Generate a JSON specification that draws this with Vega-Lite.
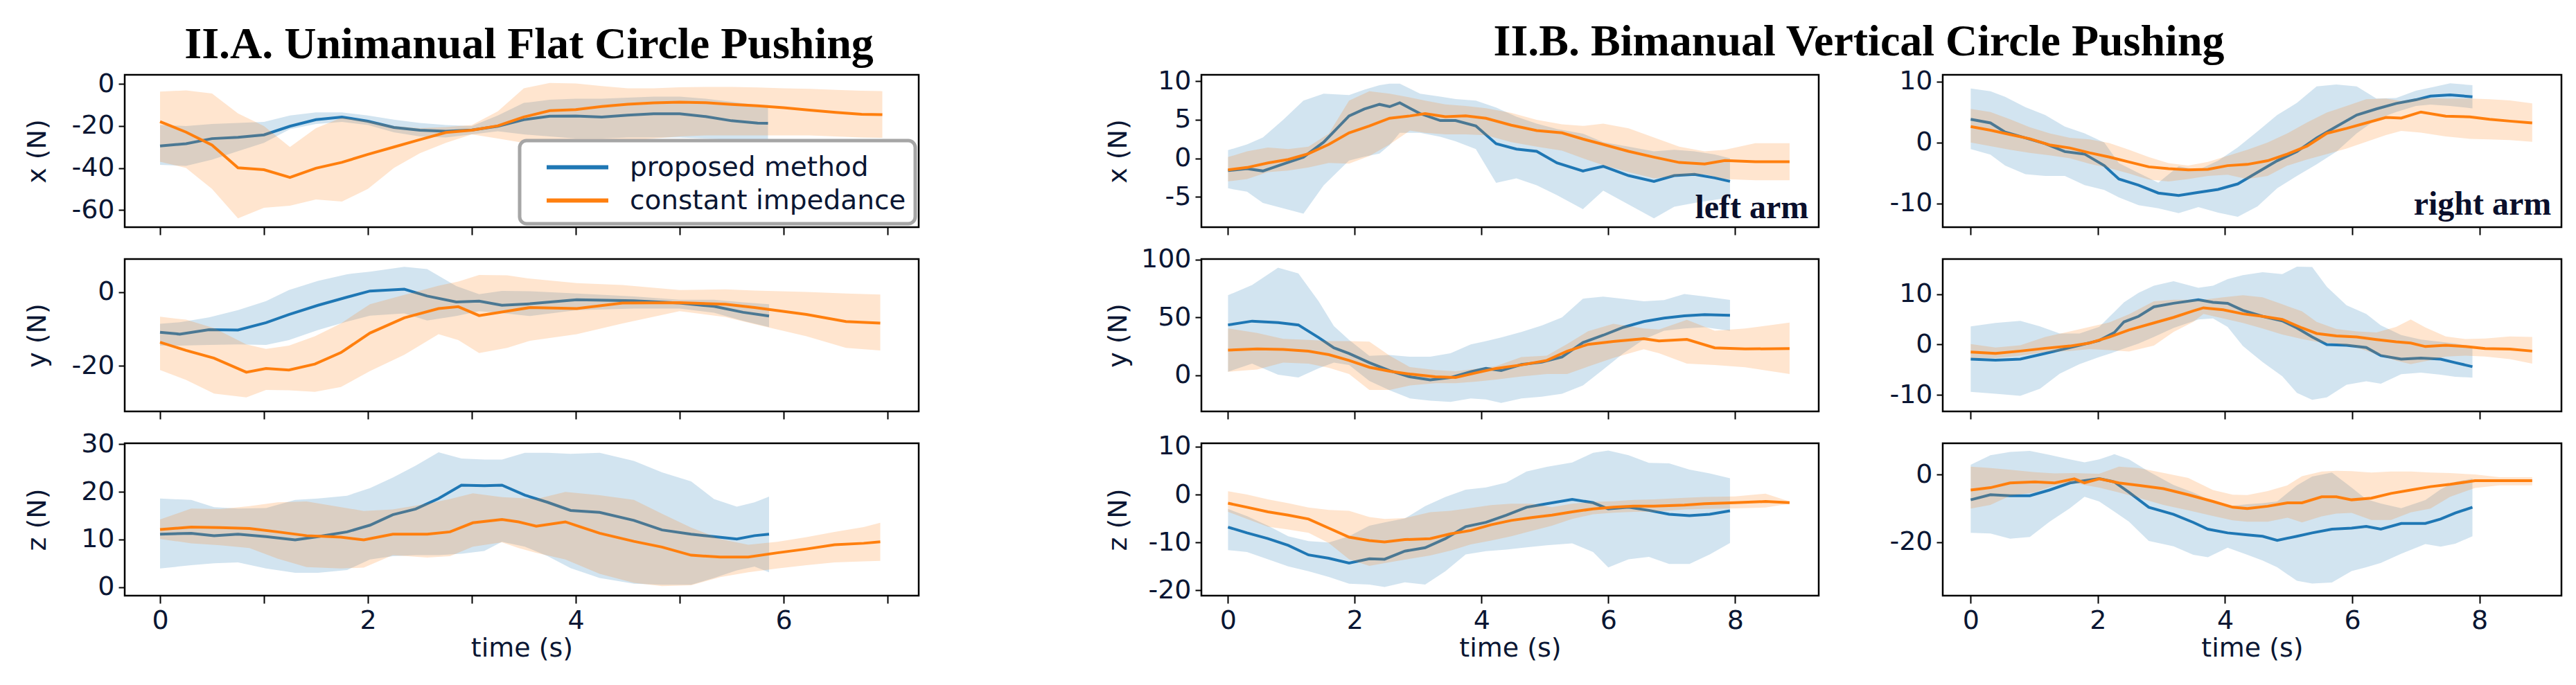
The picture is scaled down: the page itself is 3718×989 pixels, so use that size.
{
  "$schema": "https://vega.github.io/schema/vega-lite/v6.json",
  "background": "white",
  "padding": {"left": 33, "top": 29, "right": 0, "bottom": 0},
  "config": {
    "view": {"stroke": "#000000", "strokeWidth": 2.5},
    "axis": {"grid": false, "domain": false, "tickColor": "#000000", "tickWidth": 2, "labelFont": "DejaVu Sans", "labelFontSize": 38, "labelColor": "#0a1633", "titleColor": "#0a1633", "titleFontWeight": "normal", "titleFont": "DejaVu Sans"},
    "axisX": {"tickSize": 11, "labelPadding": 6, "titlePadding": 2, "titleFontSize": 38},
    "axisY": {"tickSize": 9, "labelPadding": 6, "titleFontSize": 38, "titleBaseline": "middle"},
    "title": {"font": "Liberation Serif", "fontWeight": "bold", "fontSize": 64, "color": "#000000", "anchor": "middle", "offset": 4}
  },
  "datasets": {
    "Ax_p": [
      {"t":0,"m":-29.5,"lo":-38.5,"hi":-19.5},{"t":0.25,"m":-28.4,"lo":-39,"hi":-20},{"t":0.5,"m":-26,"lo":-36,"hi":-19},{"t":0.75,"m":-25.4,"lo":-32,"hi":-18.5},
      {"t":1,"m":-24.2,"lo":-28,"hi":-18},{"t":1.25,"m":-20.1,"lo":-21.5,"hi":-15},{"t":1.5,"m":-17,"lo":-19,"hi":-13.5},{"t":1.75,"m":-15.7,"lo":-18,"hi":-13.5},
      {"t":2,"m":-17.7,"lo":-19.5,"hi":-15},{"t":2.25,"m":-20.7,"lo":-23,"hi":-17},{"t":2.5,"m":-22,"lo":-25,"hi":-18.5},{"t":2.75,"m":-22.5,"lo":-25.5,"hi":-19.5},
      {"t":3,"m":-21.9,"lo":-24,"hi":-20},{"t":3.25,"m":-20.1,"lo":-22.5,"hi":-15},{"t":3.5,"m":-17,"lo":-24,"hi":-9},{"t":3.75,"m":-15.3,"lo":-25,"hi":-7.5},
      {"t":4,"m":-15.2,"lo":-26,"hi":-7},{"t":4.25,"m":-15.7,"lo":-26,"hi":-7},{"t":4.5,"m":-14.8,"lo":-25.5,"hi":-6.5},{"t":4.75,"m":-14.2,"lo":-25.5,"hi":-6},
      {"t":5,"m":-14.2,"lo":-25.5,"hi":-6},{"t":5.25,"m":-15.5,"lo":-26,"hi":-7},{"t":5.5,"m":-17.5,"lo":-26.5,"hi":-8.5},{"t":5.75,"m":-18.6,"lo":-26.5,"hi":-10},
      {"t":5.85,"m":-18.7,"lo":-26.5,"hi":-10}
    ],
    "Ax_c": [
      {"t":0,"m":-17.9,"lo":-37,"hi":-3.6},{"t":0.25,"m":-22.9,"lo":-40,"hi":-3},{"t":0.5,"m":-29.1,"lo":-50,"hi":-4.5},{"t":0.75,"m":-39.9,"lo":-64,"hi":-14},
      {"t":1,"m":-40.8,"lo":-59,"hi":-20},{"t":1.25,"m":-44.5,"lo":-58,"hi":-30},{"t":1.5,"m":-40.1,"lo":-55,"hi":-21},{"t":1.75,"m":-37.3,"lo":-56,"hi":-16},
      {"t":2,"m":-33.5,"lo":-50,"hi":-17.5},{"t":2.25,"m":-30,"lo":-40,"hi":-20},{"t":2.5,"m":-26.5,"lo":-33,"hi":-21},{"t":2.75,"m":-23.1,"lo":-28,"hi":-20.5},
      {"t":3,"m":-22,"lo":-24,"hi":-19.5},{"t":3.25,"m":-19.9,"lo":-26,"hi":-13},{"t":3.5,"m":-15.7,"lo":-28,"hi":-2},{"t":3.75,"m":-12.7,"lo":-28,"hi":0.5},
      {"t":4,"m":-12.2,"lo":-27.5,"hi":0.3},{"t":4.25,"m":-10.7,"lo":-27,"hi":-1},{"t":4.5,"m":-9.6,"lo":-27,"hi":-2},{"t":4.75,"m":-9,"lo":-26,"hi":-2},
      {"t":5,"m":-8.6,"lo":-25,"hi":-1.5},{"t":5.25,"m":-8.9,"lo":-24.5,"hi":-1.4},{"t":5.5,"m":-9.7,"lo":-24.5,"hi":-1.4},{"t":5.75,"m":-10.4,"lo":-24.5,"hi":-1.6},
      {"t":6,"m":-11.3,"lo":-24.5,"hi":-2},{"t":6.25,"m":-12.4,"lo":-24.5,"hi":-2.3},{"t":6.5,"m":-13.5,"lo":-25,"hi":-2.8},{"t":6.75,"m":-14.4,"lo":-25.5,"hi":-3.2},
      {"t":6.95,"m":-14.6,"lo":-25.6,"hi":-3.4}
    ],
    "Ay_p": [
      {"t":0,"m":-10.9,"lo":-14.5,"hi":-8.6},{"t":0.19,"m":-11.4,"lo":-14.5,"hi":-8.2},{"t":0.47,"m":-10.2,"lo":-14.3,"hi":-6.9},{"t":0.75,"m":-10.3,"lo":-14.2,"hi":-4.9},
      {"t":1.02,"m":-8.3,"lo":-14.3,"hi":-2.5},{"t":1.24,"m":-6.1,"lo":-13,"hi":0.5},{"t":1.52,"m":-3.6,"lo":-10.3,"hi":3},{"t":1.8,"m":-1.4,"lo":-8,"hi":4.8},
      {"t":2.02,"m":0.25,"lo":-6.4,"hi":5.5},{"t":2.35,"m":0.75,"lo":-5.8,"hi":6.8},{"t":2.57,"m":-1.1,"lo":-7.7,"hi":6.2},{"t":2.85,"m":-2.7,"lo":-6.5,"hi":1.6},
      {"t":3.07,"m":-2.5,"lo":-5.2,"hi":-0.6},{"t":3.29,"m":-3.6,"lo":-5.7,"hi":0.3},{"t":3.56,"m":-3.2,"lo":-6.5,"hi":0.2},{"t":4.01,"m":-2.1,"lo":-4.9,"hi":-0.4},
      {"t":4.56,"m":-2.4,"lo":-4.5,"hi":-1.2},{"t":5,"m":-3,"lo":-4.5,"hi":-2.1},{"t":5.33,"m":-3.9,"lo":-5.6,"hi":-2.1},{"t":5.61,"m":-5.5,"lo":-7.8,"hi":-2.8},
      {"t":5.86,"m":-6.5,"lo":-9.5,"hi":-3.3}
    ],
    "Ay_c": [
      {"t":0,"m":-13.6,"lo":-21.1,"hi":-6.7},{"t":0.25,"m":-15.8,"lo":-23.8,"hi":-7.5},{"t":0.52,"m":-17.9,"lo":-27.5,"hi":-9.8},{"t":0.83,"m":-21.7,"lo":-28.5,"hi":-14.2},
      {"t":1.02,"m":-20.7,"lo":-26.5,"hi":-15.4},{"t":1.24,"m":-21.1,"lo":-26.6,"hi":-14.5},{"t":1.49,"m":-19.5,"lo":-27,"hi":-12},{"t":1.74,"m":-16.4,"lo":-25.7,"hi":-8.5},
      {"t":2.02,"m":-11.1,"lo":-21.4,"hi":-3.3},{"t":2.35,"m":-7,"lo":-17,"hi":-0.8},{"t":2.68,"m":-4.5,"lo":-11.4,"hi":1.7},{"t":2.87,"m":-4,"lo":-13,"hi":2.8},
      {"t":3.07,"m":-6.4,"lo":-16.5,"hi":4.6},{"t":3.34,"m":-5.2,"lo":-15.1,"hi":4.5},{"t":3.56,"m":-4.2,"lo":-13.2,"hi":3.6},{"t":4.01,"m":-4.5,"lo":-11.4,"hi":2.4},
      {"t":4.45,"m":-3,"lo":-8.5,"hi":1.9},{"t":5,"m":-2.9,"lo":-5.2,"hi":0.5},{"t":5.44,"m":-3.3,"lo":-6.8,"hi":0.7},{"t":5.72,"m":-4.2,"lo":-8.7,"hi":0.4},
      {"t":6.22,"m":-6.1,"lo":-12,"hi":0},{"t":6.6,"m":-8,"lo":-15.1,"hi":-0.4},{"t":6.93,"m":-8.4,"lo":-15.8,"hi":-0.7}
    ],
    "Az_p": [
      {"t":0,"m":11.1,"lo":3.9,"hi":18.6},{"t":0.3,"m":11.3,"lo":4.6,"hi":18.3},{"t":0.52,"m":10.8,"lo":5,"hi":16.8},{"t":0.75,"m":11.1,"lo":5.2,"hi":16.5},
      {"t":1.02,"m":10.6,"lo":3.9,"hi":16.6},{"t":1.3,"m":9.9,"lo":3,"hi":18.3},{"t":1.52,"m":10.6,"lo":3,"hi":18.6},{"t":1.8,"m":11.6,"lo":3.6,"hi":19.2},
      {"t":2.02,"m":13,"lo":5.8,"hi":20.8},{"t":2.24,"m":15.2,"lo":6.5,"hi":23},{"t":2.46,"m":16.4,"lo":6.7,"hi":25.5},{"t":2.68,"m":18.6,"lo":6.7,"hi":28.3},
      {"t":2.9,"m":21.4,"lo":7,"hi":27},{"t":3.12,"m":21.3,"lo":7.6,"hi":26.8},{"t":3.29,"m":21.4,"lo":9.5,"hi":26.8},{"t":3.51,"m":19.3,"lo":8.5,"hi":28.2},
      {"t":3.73,"m":17.8,"lo":6.5,"hi":28.2},{"t":3.95,"m":16.1,"lo":4,"hi":28},{"t":4.23,"m":15.7,"lo":1.9,"hi":28.2},{"t":4.56,"m":14,"lo":0.7,"hi":26.5},
      {"t":4.83,"m":12,"lo":0.5,"hi":24.1},{"t":5.11,"m":11.1,"lo":0.5,"hi":22.2},{"t":5.33,"m":10.6,"lo":1.9,"hi":18.5},{"t":5.55,"m":10.1,"lo":3.5,"hi":16.9},
      {"t":5.72,"m":10.8,"lo":4.3,"hi":17.8},{"t":5.86,"m":11.1,"lo":3.1,"hi":19}
    ],
    "Az_c": [
      {"t":0,"m":12.1,"lo":10.1,"hi":14.2},{"t":0.3,"m":12.6,"lo":9.2,"hi":16.5},{"t":0.58,"m":12.5,"lo":8.8,"hi":16.4},{"t":0.86,"m":12.3,"lo":8.2,"hi":17},
      {"t":1.13,"m":11.6,"lo":6,"hi":17.8},{"t":1.41,"m":10.8,"lo":4.2,"hi":18},{"t":1.74,"m":10.5,"lo":3.9,"hi":16.8},{"t":1.96,"m":9.9,"lo":4.1,"hi":16},
      {"t":2.24,"m":11.1,"lo":6.7,"hi":16.3},{"t":2.57,"m":11.1,"lo":6.2,"hi":17.5},{"t":2.79,"m":11.6,"lo":6.5,"hi":18.5},{"t":3.01,"m":13.5,"lo":8.5,"hi":19.7},
      {"t":3.29,"m":14.2,"lo":9.4,"hi":18.9},{"t":3.45,"m":13.7,"lo":8.2,"hi":18.7},{"t":3.62,"m":12.8,"lo":7.2,"hi":18.5},{"t":3.9,"m":13.7,"lo":5.8,"hi":20},
      {"t":4.23,"m":11.3,"lo":2.8,"hi":19.3},{"t":4.56,"m":9.6,"lo":0.9,"hi":18.3},{"t":4.83,"m":8.4,"lo":0.2,"hi":15.4},{"t":5.11,"m":6.7,"lo":0.4,"hi":12.5},
      {"t":5.39,"m":6.3,"lo":2.1,"hi":10.1},{"t":5.66,"m":6.3,"lo":3.1,"hi":8.9},{"t":5.94,"m":7.2,"lo":3.9,"hi":9.5},{"t":6.22,"m":8,"lo":4.6,"hi":10.5},
      {"t":6.49,"m":8.9,"lo":5.2,"hi":11.6},{"t":6.77,"m":9.2,"lo":5.4,"hi":12.6},{"t":6.93,"m":9.5,"lo":5.5,"hi":13.5}
    ],
    "Lx_p": [
      {"t":0,"m":-1.6,"lo":-3.9,"hi":1.05},{"t":0.3,"m":-1.35,"lo":-4.35,"hi":1.8},{"t":0.55,"m":-1.65,"lo":-5.8,"hi":2.7},{"t":0.87,"m":-0.75,"lo":-6.5,"hi":5},
      {"t":1.19,"m":0.15,"lo":-7.2,"hi":7.5},{"t":1.51,"m":2.1,"lo":-3.5,"hi":8.4},{"t":1.91,"m":5.5,"lo":-0.3,"hi":8.2},{"t":2.15,"m":6.4,"lo":0.2,"hi":8.9},
      {"t":2.39,"m":7,"lo":0.6,"hi":9.5},{"t":2.55,"m":6.7,"lo":1.7,"hi":9.7},{"t":2.71,"m":7.2,"lo":3.3,"hi":9.7},{"t":3.03,"m":5.8,"lo":3.3,"hi":8.4},
      {"t":3.35,"m":4.9,"lo":2.8,"hi":8},{"t":3.59,"m":4.9,"lo":2.2,"hi":7.7},{"t":3.91,"m":4.2,"lo":1.2,"hi":7.5},{"t":4.23,"m":1.9,"lo":-3.2,"hi":6.6},
      {"t":4.55,"m":1.2,"lo":-2.6,"hi":5.4},{"t":4.87,"m":0.9,"lo":-3.5,"hi":4.5},{"t":5.19,"m":-0.6,"lo":-4.8,"hi":3.8},{"t":5.6,"m":-1.65,"lo":-6.6,"hi":3.2},
      {"t":5.92,"m":-1.05,"lo":-4.2,"hi":2.1},{"t":6.32,"m":-2.25,"lo":-6,"hi":1.5},{"t":6.72,"m":-3,"lo":-7.8,"hi":0.9},{"t":7.04,"m":-2.25,"lo":-6.3,"hi":1.1},
      {"t":7.36,"m":-2.1,"lo":-5.8,"hi":0.9},{"t":7.68,"m":-2.55,"lo":-5.4,"hi":0.5},{"t":7.92,"m":-3,"lo":-5.1,"hi":0}
    ],
    "Lx_c": [
      {"t":0,"m":-1.5,"lo":-3,"hi":0.15},{"t":0.3,"m":-1.2,"lo":-2.7,"hi":0.9},{"t":0.63,"m":-0.6,"lo":-1.8,"hi":1.4},{"t":0.95,"m":-0.15,"lo":-1.6,"hi":1.2},
      {"t":1.27,"m":0.6,"lo":-1.2,"hi":1.5},{"t":1.59,"m":1.8,"lo":-0.6,"hi":3.2},{"t":1.91,"m":3.3,"lo":-0.7,"hi":7.5},{"t":2.23,"m":4.2,"lo":0.3,"hi":8.7},
      {"t":2.55,"m":5.2,"lo":1.8,"hi":8.4},{"t":2.87,"m":5.5,"lo":3.6,"hi":7.9},{"t":3.11,"m":5.8,"lo":3.3,"hi":7.5},{"t":3.43,"m":5.4,"lo":3.1,"hi":7},
      {"t":3.75,"m":5.5,"lo":3.1,"hi":6.8},{"t":4.07,"m":5.2,"lo":3,"hi":6.5},{"t":4.47,"m":4.3,"lo":2.1,"hi":5.9},{"t":4.87,"m":3.6,"lo":1.5,"hi":5},
      {"t":5.27,"m":3.3,"lo":1,"hi":4.4},{"t":5.6,"m":2.5,"lo":0,"hi":4.2},{"t":5.92,"m":1.8,"lo":-0.9,"hi":4.5},{"t":6.32,"m":0.9,"lo":-1.8,"hi":3.9},
      {"t":6.72,"m":0.15,"lo":-2.6,"hi":2.7},{"t":7.12,"m":-0.55,"lo":-2.3,"hi":1.5},{"t":7.52,"m":-0.75,"lo":-2.1,"hi":0.9},{"t":7.84,"m":-0.3,"lo":-2.7,"hi":1.1},
      {"t":8.32,"m":-0.45,"lo":-2.85,"hi":1.95},{"t":8.86,"m":-0.45,"lo":-2.85,"hi":1.95}
    ],
    "Ly_p": [
      {"t":0,"m":43.5,"lo":3,"hi":69.2},{"t":0.38,"m":46.8,"lo":10,"hi":78},{"t":0.79,"m":45.5,"lo":0.5,"hi":93},{"t":1.11,"m":43.5,"lo":-2,"hi":88},
      {"t":1.43,"m":32.6,"lo":6,"hi":64},{"t":1.67,"m":23.7,"lo":11,"hi":42.5},{"t":1.91,"m":18.8,"lo":8.9,"hi":30.6},{"t":2.23,"m":10.9,"lo":-5,"hi":16.8},
      {"t":2.55,"m":4,"lo":-13,"hi":17.5},{"t":2.87,"m":-1.4,"lo":-20,"hi":16},{"t":3.19,"m":-4,"lo":-22,"hi":16},{"t":3.51,"m":-2,"lo":-23,"hi":19},
      {"t":3.83,"m":3,"lo":-20,"hi":26.7},{"t":4.07,"m":5.9,"lo":-21,"hi":29.5},{"t":4.31,"m":4,"lo":-24,"hi":32.6},{"t":4.63,"m":9.3,"lo":-20,"hi":37.5},
      {"t":4.95,"m":11.3,"lo":-18.5,"hi":43},{"t":5.27,"m":15.8,"lo":-16,"hi":50},{"t":5.6,"m":28.3,"lo":-8.9,"hi":66.2},{"t":5.92,"m":34.6,"lo":4.9,"hi":68},
      {"t":6.24,"m":41.5,"lo":19,"hi":66},{"t":6.56,"m":46.4,"lo":31,"hi":64},{"t":6.88,"m":49.4,"lo":38.5,"hi":65},{"t":7.2,"m":51.4,"lo":40.5,"hi":70.2},
      {"t":7.52,"m":52.4,"lo":41.5,"hi":68.2},{"t":7.92,"m":51.8,"lo":38.5,"hi":65.2}
    ],
    "Ly_c": [
      {"t":0,"m":21.7,"lo":3,"hi":40.5},{"t":0.46,"m":22.7,"lo":5,"hi":36.6},{"t":0.87,"m":22.3,"lo":10.9,"hi":31.5},{"t":1.27,"m":20.8,"lo":10,"hi":30.6},
      {"t":1.59,"m":17.8,"lo":6.5,"hi":29.5},{"t":1.91,"m":12.8,"lo":1,"hi":29.5},{"t":2.23,"m":6.9,"lo":-12.8,"hi":29},{"t":2.55,"m":3.4,"lo":-12.8,"hi":17},
      {"t":2.87,"m":1,"lo":-8.9,"hi":7},{"t":3.27,"m":-1.4,"lo":-6.9,"hi":4.5},{"t":3.59,"m":-2,"lo":-6.9,"hi":3.4},{"t":3.91,"m":2,"lo":-5.5,"hi":5.5},
      {"t":4.23,"m":5.9,"lo":-3.8,"hi":8},{"t":4.63,"m":8.9,"lo":-1,"hi":15.8},{"t":5.03,"m":12.8,"lo":1,"hi":17},{"t":5.35,"m":20.8,"lo":1,"hi":27},
      {"t":5.68,"m":26.7,"lo":7.5,"hi":38},{"t":6.08,"m":29.2,"lo":15,"hi":44.5},{"t":6.56,"m":31.6,"lo":22.5,"hi":40.5},{"t":6.8,"m":29.6,"lo":19,"hi":39.5},
      {"t":7.24,"m":31,"lo":10,"hi":48},{"t":7.68,"m":23.7,"lo":8.9,"hi":38.5},{"t":8.16,"m":22.7,"lo":6.9,"hi":40.5},{"t":8.86,"m":23.1,"lo":1,"hi":45.5}
    ],
    "Lz_p": [
      {"t":0,"m":-6.8,"lo":-11.6,"hi":-3},{"t":0.3,"m":-8,"lo":-12,"hi":-4.5},{"t":0.63,"m":-9.2,"lo":-13.5,"hi":-6.5},{"t":0.95,"m":-10.6,"lo":-15,"hi":-8.7},
      {"t":1.27,"m":-12.6,"lo":-16,"hi":-9.7},{"t":1.59,"m":-13.3,"lo":-17.2,"hi":-10},{"t":1.91,"m":-14.3,"lo":-18.6,"hi":-8.7},{"t":2.23,"m":-13.4,"lo":-18.8,"hi":-6.5},
      {"t":2.47,"m":-13.5,"lo":-19.3,"hi":-5.8},{"t":2.79,"m":-11.8,"lo":-18.3,"hi":-5},{"t":3.11,"m":-11.1,"lo":-18.8,"hi":-2.4},{"t":3.43,"m":-9.2,"lo":-16,"hi":-0.5},
      {"t":3.75,"m":-6.7,"lo":-12.5,"hi":1},{"t":4.07,"m":-5.8,"lo":-11.8,"hi":1.5},{"t":4.39,"m":-4.3,"lo":-11.5,"hi":2.5},{"t":4.71,"m":-2.65,"lo":-11,"hi":4.8},
      {"t":5.03,"m":-1.9,"lo":-10.6,"hi":5.8},{"t":5.43,"m":-1,"lo":-10.2,"hi":6.7},{"t":5.76,"m":-1.7,"lo":-12,"hi":8.7},{"t":6,"m":-3,"lo":-15.2,"hi":9.2},
      {"t":6.32,"m":-2.65,"lo":-13.5,"hi":8.2},{"t":6.64,"m":-3.3,"lo":-13,"hi":6.6},{"t":6.96,"m":-4.1,"lo":-14.5,"hi":6.5},{"t":7.28,"m":-4.4,"lo":-14.5,"hi":5.2},
      {"t":7.6,"m":-4.1,"lo":-12.5,"hi":4.4},{"t":7.92,"m":-3.4,"lo":-10.1,"hi":3.4}
    ],
    "Lz_c": [
      {"t":0,"m":-1.8,"lo":-3.6,"hi":0.7},{"t":0.3,"m":-2.65,"lo":-5.1,"hi":0},{"t":0.63,"m":-3.6,"lo":-6.7,"hi":-1},{"t":0.95,"m":-4.3,"lo":-7.3,"hi":-1.8},
      {"t":1.27,"m":-5.1,"lo":-8,"hi":-2.7},{"t":1.59,"m":-7,"lo":-10.1,"hi":-3.2},{"t":1.91,"m":-8.9,"lo":-13.5,"hi":-3.4},{"t":2.23,"m":-9.6,"lo":-14.9,"hi":-4.7},
      {"t":2.47,"m":-9.9,"lo":-14.3,"hi":-5.1},{"t":2.79,"m":-9.4,"lo":-13.6,"hi":-4.9},{"t":3.19,"m":-9.2,"lo":-12.7,"hi":-3.7},{"t":3.51,"m":-8.2,"lo":-11.7,"hi":-3.4},
      {"t":3.83,"m":-7.5,"lo":-10.4,"hi":-2.8},{"t":4.15,"m":-6.3,"lo":-9.6,"hi":-2.2},{"t":4.47,"m":-5.4,"lo":-8.7,"hi":-1.9},{"t":4.79,"m":-4.8,"lo":-7.6,"hi":-1.9},
      {"t":5.11,"m":-4.3,"lo":-6.5,"hi":-2.65},{"t":5.43,"m":-3.6,"lo":-5.1,"hi":-1.9},{"t":5.76,"m":-3,"lo":-4.1,"hi":-1.5},{"t":6.08,"m":-2.65,"lo":-3.8,"hi":-1.4},
      {"t":6.4,"m":-2.4,"lo":-3.6,"hi":-1.1},{"t":6.72,"m":-2.4,"lo":-3.6,"hi":-1},{"t":7.2,"m":-2.2,"lo":-3.1,"hi":-0.7},{"t":7.52,"m":-1.9,"lo":-3,"hi":-0.5},
      {"t":8,"m":-1.7,"lo":-2.9,"hi":-0.4},{"t":8.48,"m":-1.45,"lo":-2.7,"hi":0.2},{"t":8.86,"m":-1.7,"lo":-1.9,"hi":-1.45}
    ],
    "Rx_p": [
      {"t":0,"m":3.8,"lo":-1.1,"hi":8.85},{"t":0.31,"m":3.2,"lo":-2,"hi":8.4},{"t":0.54,"m":1.7,"lo":-3.8,"hi":7.5},{"t":0.86,"m":0.75,"lo":-5.2,"hi":5.8},
      {"t":1.17,"m":-0.2,"lo":-5.5,"hi":4.5},{"t":1.48,"m":-1.5,"lo":-5.5,"hi":2.6},{"t":1.79,"m":-1.9,"lo":-7,"hi":1.5},{"t":2.1,"m":-3.8,"lo":-7.8,"hi":0},
      {"t":2.33,"m":-6,"lo":-9,"hi":-3.4},{"t":2.64,"m":-7,"lo":-10.3,"hi":-5},{"t":2.95,"m":-8.3,"lo":-10.8,"hi":-6.6},{"t":3.27,"m":-8.7,"lo":-11.6,"hi":-3.9},
      {"t":3.58,"m":-8.2,"lo":-10.6,"hi":-4.5},{"t":3.89,"m":-7.7,"lo":-11.5,"hi":-3},{"t":4.2,"m":-6.8,"lo":-12.2,"hi":-0.8},{"t":4.51,"m":-4.9,"lo":-10.5,"hi":1.8},
      {"t":4.82,"m":-3,"lo":-7.5,"hi":4.5},{"t":5.13,"m":-1.5,"lo":-5.5,"hi":6.5},{"t":5.44,"m":0.75,"lo":-3.6,"hi":9.2},{"t":5.75,"m":2.6,"lo":-1.5,"hi":9.5},
      {"t":6.07,"m":4.5,"lo":1.5,"hi":9.2},{"t":6.38,"m":5.5,"lo":3.8,"hi":7.2},{"t":6.69,"m":6.4,"lo":5,"hi":7.3},{"t":7,"m":7,"lo":6,"hi":8.5},
      {"t":7.23,"m":7.6,"lo":6.2,"hi":9},{"t":7.54,"m":7.8,"lo":6,"hi":9.7},{"t":7.89,"m":7.5,"lo":5.6,"hi":9.4}
    ],
    "Rx_c": [
      {"t":0,"m":2.6,"lo":0,"hi":5.5},{"t":0.31,"m":2,"lo":-0.6,"hi":5},{"t":0.62,"m":1.3,"lo":-1.2,"hi":3.8},{"t":0.93,"m":0.6,"lo":-1.7,"hi":2.5},
      {"t":1.24,"m":-0.4,"lo":-2.1,"hi":1.5},{"t":1.56,"m":-0.9,"lo":-2.6,"hi":0.75},{"t":1.87,"m":-1.7,"lo":-3.5,"hi":0.5},{"t":2.18,"m":-2.4,"lo":-4.2,"hi":-0.1},
      {"t":2.49,"m":-3.2,"lo":-5.1,"hi":-1.2},{"t":2.8,"m":-4,"lo":-6.1,"hi":-2.4},{"t":3.11,"m":-4.3,"lo":-6.4,"hi":-3.4},{"t":3.42,"m":-4.5,"lo":-6,"hi":-3.8},
      {"t":3.73,"m":-4.4,"lo":-5.5,"hi":-3.2},{"t":4.04,"m":-3.8,"lo":-5.3,"hi":-2.2},{"t":4.35,"m":-3.6,"lo":-6,"hi":-1.2},{"t":4.67,"m":-3,"lo":-5.5,"hi":0},
      {"t":4.98,"m":-1.9,"lo":-3.8,"hi":1.5},{"t":5.29,"m":-0.6,"lo":-2.8,"hi":3.3},{"t":5.6,"m":1.5,"lo":-1.9,"hi":4.9},{"t":5.91,"m":2.3,"lo":-1,"hi":6},
      {"t":6.22,"m":3.2,"lo":0.1,"hi":7.1},{"t":6.53,"m":4.1,"lo":1.2,"hi":7.2},{"t":6.77,"m":4,"lo":1.9,"hi":6.8},{"t":7.08,"m":5,"lo":1.6,"hi":7.3},
      {"t":7.47,"m":4.3,"lo":1,"hi":7.2},{"t":7.85,"m":4.2,"lo":0.6,"hi":7.2},{"t":8.16,"m":3.8,"lo":0.5,"hi":7.1},{"t":8.48,"m":3.5,"lo":0.4,"hi":6.9},
      {"t":8.83,"m":3.2,"lo":0.1,"hi":6.4}
    ],
    "Ry_p": [
      {"t":0,"m":-2.9,"lo":-9.4,"hi":3.6},{"t":0.39,"m":-3.1,"lo":-9.8,"hi":4.3},{"t":0.78,"m":-2.9,"lo":-10.2,"hi":4.7},{"t":1.09,"m":-2,"lo":-8.8,"hi":3.6},
      {"t":1.4,"m":-1.1,"lo":-5.8,"hi":2.2},{"t":1.71,"m":-0.15,"lo":-3.9,"hi":2.2},{"t":2.02,"m":0.8,"lo":-2.5,"hi":3.5},{"t":2.26,"m":2.4,"lo":-1.5,"hi":6.5},
      {"t":2.41,"m":4.5,"lo":-0.8,"hi":8.4},{"t":2.64,"m":5.6,"lo":0.2,"hi":10.3},{"t":2.88,"m":7.5,"lo":1.5,"hi":11.7},{"t":3.19,"m":8.2,"lo":3.3,"hi":12.6},
      {"t":3.58,"m":8.9,"lo":5,"hi":11.3},{"t":3.81,"m":8.4,"lo":5.2,"hi":11.7},{"t":4.04,"m":8.2,"lo":3.5,"hi":13},{"t":4.28,"m":6.8,"lo":-0.3,"hi":13.8},
      {"t":4.59,"m":5.6,"lo":-3.5,"hi":14.4},{"t":4.9,"m":4.7,"lo":-6.3,"hi":14},{"t":5.13,"m":3.3,"lo":-9.6,"hi":15.5},{"t":5.37,"m":1.5,"lo":-11,"hi":15.4},
      {"t":5.6,"m":0,"lo":-10.5,"hi":11.5},{"t":5.91,"m":-0.15,"lo":-8,"hi":7.8},{"t":6.22,"m":-0.6,"lo":-7.3,"hi":6.1},{"t":6.45,"m":-2.2,"lo":-7.8,"hi":3.8},
      {"t":6.77,"m":-2.9,"lo":-5.9,"hi":1.9},{"t":7.08,"m":-2.7,"lo":-5.6,"hi":1},{"t":7.39,"m":-2.9,"lo":-6,"hi":0.55},{"t":7.62,"m":-3.6,"lo":-6.4,"hi":0.2},
      {"t":7.89,"m":-4.4,"lo":-6.6,"hi":-0.4}
    ],
    "Ry_c": [
      {"t":0,"m":-1.5,"lo":-2.7,"hi":0.1},{"t":0.39,"m":-1.75,"lo":-2.7,"hi":-0.6},{"t":0.78,"m":-1.3,"lo":-2.2,"hi":-0.15},{"t":1.17,"m":-0.75,"lo":-1.5,"hi":1.5},
      {"t":1.56,"m":-0.3,"lo":-1.3,"hi":2.6},{"t":1.87,"m":0.3,"lo":-0.9,"hi":3.5},{"t":2.18,"m":1.5,"lo":-1.1,"hi":4.4},{"t":2.49,"m":2.9,"lo":-1.4,"hi":6},
      {"t":2.88,"m":4.3,"lo":-0.2,"hi":8.6},{"t":3.19,"m":5.4,"lo":2.5,"hi":8.9},{"t":3.5,"m":6.7,"lo":4.5,"hi":8.9},{"t":3.66,"m":7.3,"lo":6.1,"hi":8.9},
      {"t":3.97,"m":6.9,"lo":5.2,"hi":9.4},{"t":4.28,"m":6.1,"lo":4.3,"hi":9.8},{"t":4.59,"m":5.6,"lo":3.2,"hi":9.4},{"t":4.9,"m":5,"lo":2,"hi":8},
      {"t":5.21,"m":3.3,"lo":1.1,"hi":6.6},{"t":5.44,"m":2.2,"lo":0.55,"hi":4.5},{"t":5.75,"m":1.7,"lo":0.2,"hi":3.1},{"t":6.07,"m":1.5,"lo":-0.6,"hi":2.6},
      {"t":6.38,"m":1,"lo":-1.9,"hi":2.4},{"t":6.69,"m":0.55,"lo":-3.2,"hi":3.5},{"t":6.92,"m":0.3,"lo":-3.9,"hi":5},{"t":7.15,"m":-0.4,"lo":-3.3,"hi":3.4},
      {"t":7.47,"m":-0.15,"lo":-2.4,"hi":1.6},{"t":7.78,"m":-0.4,"lo":-2.2,"hi":1.1},{"t":8.09,"m":-0.8,"lo":-2.4,"hi":1.2},{"t":8.48,"m":-0.9,"lo":-2.9,"hi":1.6},
      {"t":8.83,"m":-1.3,"lo":-3.8,"hi":1.5}
    ],
    "Rz_p": [
      {"t":0,"m":-7.5,"lo":-17.3,"hi":2.9},{"t":0.31,"m":-6,"lo":-17.5,"hi":5.7},{"t":0.62,"m":-6.3,"lo":-19,"hi":6.7},{"t":0.93,"m":-6.3,"lo":-18.5,"hi":7},
      {"t":1.24,"m":-4.6,"lo":-14,"hi":5.8},{"t":1.56,"m":-2.5,"lo":-10,"hi":4.5},{"t":1.79,"m":-1.85,"lo":-6.6,"hi":3.6},{"t":2.02,"m":-1.2,"lo":-8,"hi":4.5},
      {"t":2.26,"m":-2.2,"lo":-11,"hi":6},{"t":2.49,"m":-5.3,"lo":-14,"hi":4.5},{"t":2.8,"m":-9.7,"lo":-19.7,"hi":0.9},{"t":3.19,"m":-11.8,"lo":-21.3,"hi":-3.1},
      {"t":3.5,"m":-14.2,"lo":-23.8,"hi":-5.3},{"t":3.73,"m":-16.2,"lo":-24.5,"hi":-7.3},{"t":4.04,"m":-17.3,"lo":-21.7,"hi":-9.4},{"t":4.35,"m":-17.9,"lo":-23.8,"hi":-8.8},
      {"t":4.59,"m":-18.3,"lo":-25.5,"hi":-8.5},{"t":4.82,"m":-19.5,"lo":-27.5,"hi":-8},{"t":5.13,"m":-18.3,"lo":-31.5,"hi":-3.2},{"t":5.37,"m":-17.3,"lo":-32.3,"hi":-0.6},
      {"t":5.68,"m":-16.2,"lo":-32,"hi":0.6},{"t":5.99,"m":-15.9,"lo":-28.6,"hi":-3.9},{"t":6.22,"m":-15.4,"lo":-27.5,"hi":-7.3},{"t":6.45,"m":-16.2,"lo":-26.2,"hi":-8.6},
      {"t":6.77,"m":-14.5,"lo":-23.5,"hi":-10},{"t":7.15,"m":-14.5,"lo":-20.6,"hi":-7.6},{"t":7.39,"m":-13.2,"lo":-21.4,"hi":-4.4},{"t":7.62,"m":-11.4,"lo":-20.5,"hi":-2.2},
      {"t":7.89,"m":-9.7,"lo":-18.3,"hi":-1.2}
    ],
    "Rz_c": [
      {"t":0,"m":-4.6,"lo":-10.1,"hi":2.3},{"t":0.31,"m":-3.9,"lo":-9,"hi":1.9},{"t":0.62,"m":-2.5,"lo":-6.3,"hi":1.4},{"t":1.01,"m":-2.2,"lo":-5.3,"hi":0.7},
      {"t":1.32,"m":-2.5,"lo":-3.2,"hi":0.3},{"t":1.63,"m":-1.3,"lo":-2.5,"hi":0.4},{"t":1.79,"m":-2.5,"lo":-3.1,"hi":0.3},{"t":2.02,"m":-1.3,"lo":-3.9,"hi":0.2},
      {"t":2.33,"m":-2.5,"lo":-5.3,"hi":2.3},{"t":2.64,"m":-3.2,"lo":-6.9,"hi":1.9},{"t":3.03,"m":-4.2,"lo":-9,"hi":0.5},{"t":3.42,"m":-6,"lo":-10.6,"hi":-1},
      {"t":3.81,"m":-8,"lo":-12.3,"hi":-4.6},{"t":4.12,"m":-9.7,"lo":-13.6,"hi":-6},{"t":4.35,"m":-10.1,"lo":-14,"hi":-6.1},{"t":4.67,"m":-9.4,"lo":-14,"hi":-4.9},
      {"t":4.98,"m":-8.4,"lo":-12.8,"hi":-3.2},{"t":5.21,"m":-8.4,"lo":-14.2,"hi":-0.5},{"t":5.52,"m":-6.6,"lo":-12.4,"hi":0.9},{"t":5.75,"m":-6.6,"lo":-11.6,"hi":1.1},
      {"t":5.99,"m":-7.5,"lo":-11.4,"hi":1},{"t":6.3,"m":-7,"lo":-13.5,"hi":0.6},{"t":6.61,"m":-5.6,"lo":-13.5,"hi":0.9},{"t":6.92,"m":-4.6,"lo":-11.2,"hi":0.9},
      {"t":7.23,"m":-3.6,"lo":-10.1,"hi":0.6},{"t":7.54,"m":-2.9,"lo":-6.6,"hi":0.4},{"t":7.93,"m":-1.85,"lo":-4,"hi":0},{"t":8.32,"m":-1.85,"lo":-3.2,"hi":-0.8},
      {"t":8.83,"m":-1.85,"lo":-3.2,"hi":-0.8}
    ],
    "notes": [
      {"panel":"Lx","label":"left arm","t":9.16,"m":-7.8},
      {"panel":"Rx","label":"right arm","t":9.13,"m":-11.9}
    ]
  },
  "spacing": 265,
  "resolve": {"scale": {"color": "independent"}, "legend": {"color": "independent"}},
  "hconcat": [
    {
      "title": {"text": "II.A. Unimanual Flat Circle Pushing", "dx": 83},
      "bounds": "flush",
      "spacing": 46,
      "resolve": {"scale": {"color": "independent"}, "legend": {"color": "independent"}},
      "vconcat": [
        {
          "width": 1146, "height": 220,
          "encoding": {
            "x": {"field": "t", "type": "quantitative", "scale": {"domain": [-0.34, 7.3], "nice": false, "zero": false}, "axis": {"values": [0,1,2,3,4,5,6,7], "labels": false, "title": null}},
            "y": {"field": "m", "type": "quantitative", "scale": {"domain": [-68.2, 4.4], "nice": false, "zero": false}, "axis": {"values": [0,-20,-40,-60], "labelExpr": "'' + datum.value", "title": "x (N)", "titleX": -126}}
          },
          "layer": [
            {"data": {"name": "Ax_p"}, "mark": {"type": "area", "color": "#1f77b4", "opacity": 0.2, "clip": true},
             "encoding": {"y": {"field": "lo", "type": "quantitative", "scale": {"domain": [-68.2, 4.4], "nice": false, "zero": false}, "axis": {"values": [0,-20,-40,-60], "labelExpr": "'' + datum.value", "title": "x (N)", "titleX": -126}}, "y2": {"field": "hi"}}},
            {"data": {"name": "Ax_p"}, "mark": {"type": "line", "strokeWidth": 4, "clip": true},
             "encoding": {
               "color": {"datum": "proposed method", "type": "nominal",
                 "scale": {"domain": ["proposed method", "constant impedance"], "range": ["#1f77b4", "#ff7f0e"]},
                 "legend": {"title": null, "orient": "bottom-right", "offset": 5, "symbolType": "M-2,0H2", "symbolSize": 1980, "symbolStrokeWidth": 6, "symbolOffset": 45, "labelOffset": 50, "labelFont": "DejaVu Sans", "labelFontSize": 39, "labelColor": "#0a1633", "labelLimit": 0, "labelExpr": "datum.label + '\u00a0\u00a0\u00a0\u00a0'", "rowPadding": 2, "padding": 13, "strokeColor": "#a6a6a6", "cornerRadius": 10, "fillColor": "#ffffff",
                   "encode": {"legend": {"update": {"strokeWidth": {"value": 5}}}}}}}},
            {"data": {"name": "Ax_c"}, "mark": {"type": "area", "color": "#ff7f0e", "opacity": 0.2, "clip": true},
             "encoding": {"y": {"field": "lo", "type": "quantitative", "scale": {"domain": [-68.2, 4.4], "nice": false, "zero": false}, "axis": {"values": [0,-20,-40,-60], "labelExpr": "'' + datum.value", "title": "x (N)", "titleX": -126}}, "y2": {"field": "hi"}}},
            {"data": {"name": "Ax_c"}, "mark": {"type": "line", "strokeWidth": 4, "clip": true},
             "encoding": {"color": {"datum": "constant impedance", "type": "nominal"}}}
          ]
        },
        {
          "width": 1146, "height": 220,
          "encoding": {
            "x": {"field": "t", "type": "quantitative", "scale": {"domain": [-0.34, 7.3], "nice": false, "zero": false}, "axis": {"values": [0,1,2,3,4,5,6,7], "labels": false, "title": null}},
            "y": {"field": "m", "type": "quantitative", "scale": {"domain": [-32.3, 8.9], "nice": false, "zero": false}, "axis": {"values": [0,-20], "labelExpr": "'' + datum.value", "title": "y (N)", "titleX": -126}}
          },
          "layer": [
            {"data": {"name": "Ay_p"}, "mark": {"type": "area", "color": "#1f77b4", "opacity": 0.2, "clip": true},
             "encoding": {"y": {"field": "lo", "type": "quantitative", "scale": {"domain": [-32.3, 8.9], "nice": false, "zero": false}, "axis": {"values": [0,-20], "labelExpr": "'' + datum.value", "title": "y (N)", "titleX": -126}}, "y2": {"field": "hi"}}},
            {"data": {"name": "Ay_p"}, "mark": {"type": "line", "color": "#1f77b4", "strokeWidth": 4, "clip": true}},
            {"data": {"name": "Ay_c"}, "mark": {"type": "area", "color": "#ff7f0e", "opacity": 0.2, "clip": true},
             "encoding": {"y": {"field": "lo", "type": "quantitative", "scale": {"domain": [-32.3, 8.9], "nice": false, "zero": false}, "axis": {"values": [0,-20], "labelExpr": "'' + datum.value", "title": "y (N)", "titleX": -126}}, "y2": {"field": "hi"}}},
            {"data": {"name": "Ay_c"}, "mark": {"type": "line", "color": "#ff7f0e", "strokeWidth": 4, "clip": true}}
          ]
        },
        {
          "width": 1146, "height": 220,
          "encoding": {
            "x": {"field": "t", "type": "quantitative", "scale": {"domain": [-0.34, 7.3], "nice": false, "zero": false}, "axis": {"values": [0,1,2,3,4,5,6,7], "labelExpr": "datum.value % 2 == 0 ? '' + datum.value : ''", "title": "time (s)"}},
            "y": {"field": "m", "type": "quantitative", "scale": {"domain": [-1.8, 30.2], "nice": false, "zero": false}, "axis": {"values": [0,10,20,30], "labelExpr": "'' + datum.value", "title": "z (N)", "titleX": -126}}
          },
          "layer": [
            {"data": {"name": "Az_p"}, "mark": {"type": "area", "color": "#1f77b4", "opacity": 0.2, "clip": true},
             "encoding": {"y": {"field": "lo", "type": "quantitative", "scale": {"domain": [-1.8, 30.2], "nice": false, "zero": false}, "axis": {"values": [0,10,20,30], "labelExpr": "'' + datum.value", "title": "z (N)", "titleX": -126}}, "y2": {"field": "hi"}}},
            {"data": {"name": "Az_p"}, "mark": {"type": "line", "color": "#1f77b4", "strokeWidth": 4, "clip": true}},
            {"data": {"name": "Az_c"}, "mark": {"type": "area", "color": "#ff7f0e", "opacity": 0.2, "clip": true},
             "encoding": {"y": {"field": "lo", "type": "quantitative", "scale": {"domain": [-1.8, 30.2], "nice": false, "zero": false}, "axis": {"values": [0,10,20,30], "labelExpr": "'' + datum.value", "title": "z (N)", "titleX": -126}}, "y2": {"field": "hi"}}},
            {"data": {"name": "Az_c"}, "mark": {"type": "line", "color": "#ff7f0e", "strokeWidth": 4, "clip": true}}
          ]
        }
      ]
    },
    {
      "title": {"text": "II.B. Bimanual Vertical Circle Pushing", "dx": 37},
      "spacing": 98,
      "hconcat": [
        {
          "bounds": "flush",
          "spacing": 46,
          "vconcat": [
            {
              "width": 891, "height": 220,
              "encoding": {
                "x": {"field": "t", "type": "quantitative", "scale": {"domain": [-0.42, 9.32], "nice": false, "zero": false}, "axis": {"values": [0,2,4,6,8], "labels": false, "title": null}},
                "y": {"field": "m", "type": "quantitative", "scale": {"domain": [-8.95, 10.84], "nice": false, "zero": false}, "axis": {"values": [10,5,0,-5], "labelExpr": "'' + datum.value", "title": "x (N)", "titleX": -120}}
              },
              "layer": [
                {"data": {"name": "Lx_p"}, "mark": {"type": "area", "color": "#1f77b4", "opacity": 0.2, "clip": true},
                 "encoding": {"y": {"field": "lo", "type": "quantitative", "scale": {"domain": [-8.95, 10.84], "nice": false, "zero": false}, "axis": {"values": [10,5,0,-5], "labelExpr": "'' + datum.value", "title": "x (N)", "titleX": -120}}, "y2": {"field": "hi"}}},
                {"data": {"name": "Lx_p"}, "mark": {"type": "line", "color": "#1f77b4", "strokeWidth": 4, "clip": true}},
                {"data": {"name": "Lx_c"}, "mark": {"type": "area", "color": "#ff7f0e", "opacity": 0.2, "clip": true},
                 "encoding": {"y": {"field": "lo", "type": "quantitative", "scale": {"domain": [-8.95, 10.84], "nice": false, "zero": false}, "axis": {"values": [10,5,0,-5], "labelExpr": "'' + datum.value", "title": "x (N)", "titleX": -120}}, "y2": {"field": "hi"}}},
                {"data": {"name": "Lx_c"}, "mark": {"type": "line", "color": "#ff7f0e", "strokeWidth": 4, "clip": true}},
                {"data": {"name": "notes"}, "transform": [{"filter": "datum.panel == 'Lx'"}],
                 "mark": {"type": "text", "font": "Liberation Serif", "fontWeight": "bold", "fontSize": 48, "align": "right", "baseline": "alphabetic", "color": "#0a0f2c"},
                 "encoding": {"text": {"field": "label"}}}
              ]
            },
            {
              "width": 891, "height": 220,
              "encoding": {
                "x": {"field": "t", "type": "quantitative", "scale": {"domain": [-0.42, 9.32], "nice": false, "zero": false}, "axis": {"values": [0,2,4,6,8], "labels": false, "title": null}},
                "y": {"field": "m", "type": "quantitative", "scale": {"domain": [-31.3, 100.5], "nice": false, "zero": false}, "axis": {"values": [100,50,0], "labelExpr": "'' + datum.value", "title": "y (N)", "titleX": -120}}
              },
              "layer": [
                {"data": {"name": "Ly_p"}, "mark": {"type": "area", "color": "#1f77b4", "opacity": 0.2, "clip": true},
                 "encoding": {"y": {"field": "lo", "type": "quantitative", "scale": {"domain": [-31.3, 100.5], "nice": false, "zero": false}, "axis": {"values": [100,50,0], "labelExpr": "'' + datum.value", "title": "y (N)", "titleX": -120}}, "y2": {"field": "hi"}}},
                {"data": {"name": "Ly_p"}, "mark": {"type": "line", "color": "#1f77b4", "strokeWidth": 4, "clip": true}},
                {"data": {"name": "Ly_c"}, "mark": {"type": "area", "color": "#ff7f0e", "opacity": 0.2, "clip": true},
                 "encoding": {"y": {"field": "lo", "type": "quantitative", "scale": {"domain": [-31.3, 100.5], "nice": false, "zero": false}, "axis": {"values": [100,50,0], "labelExpr": "'' + datum.value", "title": "y (N)", "titleX": -120}}, "y2": {"field": "hi"}}},
                {"data": {"name": "Ly_c"}, "mark": {"type": "line", "color": "#ff7f0e", "strokeWidth": 4, "clip": true}}
              ]
            },
            {
              "width": 891, "height": 220,
              "encoding": {
                "x": {"field": "t", "type": "quantitative", "scale": {"domain": [-0.42, 9.32], "nice": false, "zero": false}, "axis": {"values": [0,2,4,6,8], "labelExpr": "'' + datum.value", "title": "time (s)"}},
                "y": {"field": "m", "type": "quantitative", "scale": {"domain": [-21.1, 10.7], "nice": false, "zero": false}, "axis": {"values": [10,0,-10,-20], "labelExpr": "'' + datum.value", "title": "z (N)", "titleX": -120}}
              },
              "layer": [
                {"data": {"name": "Lz_p"}, "mark": {"type": "area", "color": "#1f77b4", "opacity": 0.2, "clip": true},
                 "encoding": {"y": {"field": "lo", "type": "quantitative", "scale": {"domain": [-21.1, 10.7], "nice": false, "zero": false}, "axis": {"values": [10,0,-10,-20], "labelExpr": "'' + datum.value", "title": "z (N)", "titleX": -120}}, "y2": {"field": "hi"}}},
                {"data": {"name": "Lz_p"}, "mark": {"type": "line", "color": "#1f77b4", "strokeWidth": 4, "clip": true}},
                {"data": {"name": "Lz_c"}, "mark": {"type": "area", "color": "#ff7f0e", "opacity": 0.2, "clip": true},
                 "encoding": {"y": {"field": "lo", "type": "quantitative", "scale": {"domain": [-21.1, 10.7], "nice": false, "zero": false}, "axis": {"values": [10,0,-10,-20], "labelExpr": "'' + datum.value", "title": "z (N)", "titleX": -120}}, "y2": {"field": "hi"}}},
                {"data": {"name": "Lz_c"}, "mark": {"type": "line", "color": "#ff7f0e", "strokeWidth": 4, "clip": true}}
              ]
            }
          ]
        },
        {
          "bounds": "flush",
          "spacing": 46,
          "vconcat": [
            {
              "width": 893, "height": 220,
              "encoding": {
                "x": {"field": "t", "type": "quantitative", "scale": {"domain": [-0.44, 9.29], "nice": false, "zero": false}, "axis": {"values": [0,2,4,6,8], "labels": false, "title": null}},
                "y": {"field": "m", "type": "quantitative", "scale": {"domain": [-13.9, 11.1], "nice": false, "zero": false}, "axis": {"values": [10,0,-10], "labelExpr": "'' + datum.value", "title": null}}
              },
              "layer": [
                {"data": {"name": "Rx_p"}, "mark": {"type": "area", "color": "#1f77b4", "opacity": 0.2, "clip": true},
                 "encoding": {"y": {"field": "lo", "type": "quantitative", "scale": {"domain": [-13.9, 11.1], "nice": false, "zero": false}, "axis": {"values": [10,0,-10], "labelExpr": "'' + datum.value", "title": null}}, "y2": {"field": "hi"}}},
                {"data": {"name": "Rx_p"}, "mark": {"type": "line", "color": "#1f77b4", "strokeWidth": 4, "clip": true}},
                {"data": {"name": "Rx_c"}, "mark": {"type": "area", "color": "#ff7f0e", "opacity": 0.2, "clip": true},
                 "encoding": {"y": {"field": "lo", "type": "quantitative", "scale": {"domain": [-13.9, 11.1], "nice": false, "zero": false}, "axis": {"values": [10,0,-10], "labelExpr": "'' + datum.value", "title": null}}, "y2": {"field": "hi"}}},
                {"data": {"name": "Rx_c"}, "mark": {"type": "line", "color": "#ff7f0e", "strokeWidth": 4, "clip": true}},
                {"data": {"name": "notes"}, "transform": [{"filter": "datum.panel == 'Rx'"}],
                 "mark": {"type": "text", "font": "Liberation Serif", "fontWeight": "bold", "fontSize": 48, "align": "right", "baseline": "alphabetic", "color": "#0a0f2c"},
                 "encoding": {"text": {"field": "label"}}}
              ]
            },
            {
              "width": 893, "height": 220,
              "encoding": {
                "x": {"field": "t", "type": "quantitative", "scale": {"domain": [-0.44, 9.29], "nice": false, "zero": false}, "axis": {"values": [0,2,4,6,8], "labels": false, "title": null}},
                "y": {"field": "m", "type": "quantitative", "scale": {"domain": [-13.3, 17], "nice": false, "zero": false}, "axis": {"values": [10,0,-10], "labelExpr": "'' + datum.value", "title": null}}
              },
              "layer": [
                {"data": {"name": "Ry_p"}, "mark": {"type": "area", "color": "#1f77b4", "opacity": 0.2, "clip": true},
                 "encoding": {"y": {"field": "lo", "type": "quantitative", "scale": {"domain": [-13.3, 17], "nice": false, "zero": false}, "axis": {"values": [10,0,-10], "labelExpr": "'' + datum.value", "title": null}}, "y2": {"field": "hi"}}},
                {"data": {"name": "Ry_p"}, "mark": {"type": "line", "color": "#1f77b4", "strokeWidth": 4, "clip": true}},
                {"data": {"name": "Ry_c"}, "mark": {"type": "area", "color": "#ff7f0e", "opacity": 0.2, "clip": true},
                 "encoding": {"y": {"field": "lo", "type": "quantitative", "scale": {"domain": [-13.3, 17], "nice": false, "zero": false}, "axis": {"values": [10,0,-10], "labelExpr": "'' + datum.value", "title": null}}, "y2": {"field": "hi"}}},
                {"data": {"name": "Ry_c"}, "mark": {"type": "line", "color": "#ff7f0e", "strokeWidth": 4, "clip": true}}
              ]
            },
            {
              "width": 893, "height": 220,
              "encoding": {
                "x": {"field": "t", "type": "quantitative", "scale": {"domain": [-0.44, 9.29], "nice": false, "zero": false}, "axis": {"values": [0,2,4,6,8], "labelExpr": "'' + datum.value", "title": "time (s)"}},
                "y": {"field": "m", "type": "quantitative", "scale": {"domain": [-35.9, 9.25], "nice": false, "zero": false}, "axis": {"values": [0,-20], "labelExpr": "'' + datum.value", "title": null}}
              },
              "layer": [
                {"data": {"name": "Rz_p"}, "mark": {"type": "area", "color": "#1f77b4", "opacity": 0.2, "clip": true},
                 "encoding": {"y": {"field": "lo", "type": "quantitative", "scale": {"domain": [-35.9, 9.25], "nice": false, "zero": false}, "axis": {"values": [0,-20], "labelExpr": "'' + datum.value", "title": null}}, "y2": {"field": "hi"}}},
                {"data": {"name": "Rz_p"}, "mark": {"type": "line", "color": "#1f77b4", "strokeWidth": 4, "clip": true}},
                {"data": {"name": "Rz_c"}, "mark": {"type": "area", "color": "#ff7f0e", "opacity": 0.2, "clip": true},
                 "encoding": {"y": {"field": "lo", "type": "quantitative", "scale": {"domain": [-35.9, 9.25], "nice": false, "zero": false}, "axis": {"values": [0,-20], "labelExpr": "'' + datum.value", "title": null}}, "y2": {"field": "hi"}}},
                {"data": {"name": "Rz_c"}, "mark": {"type": "line", "color": "#ff7f0e", "strokeWidth": 4, "clip": true}}
              ]
            }
          ]
        }
      ]
    }
  ]
}
